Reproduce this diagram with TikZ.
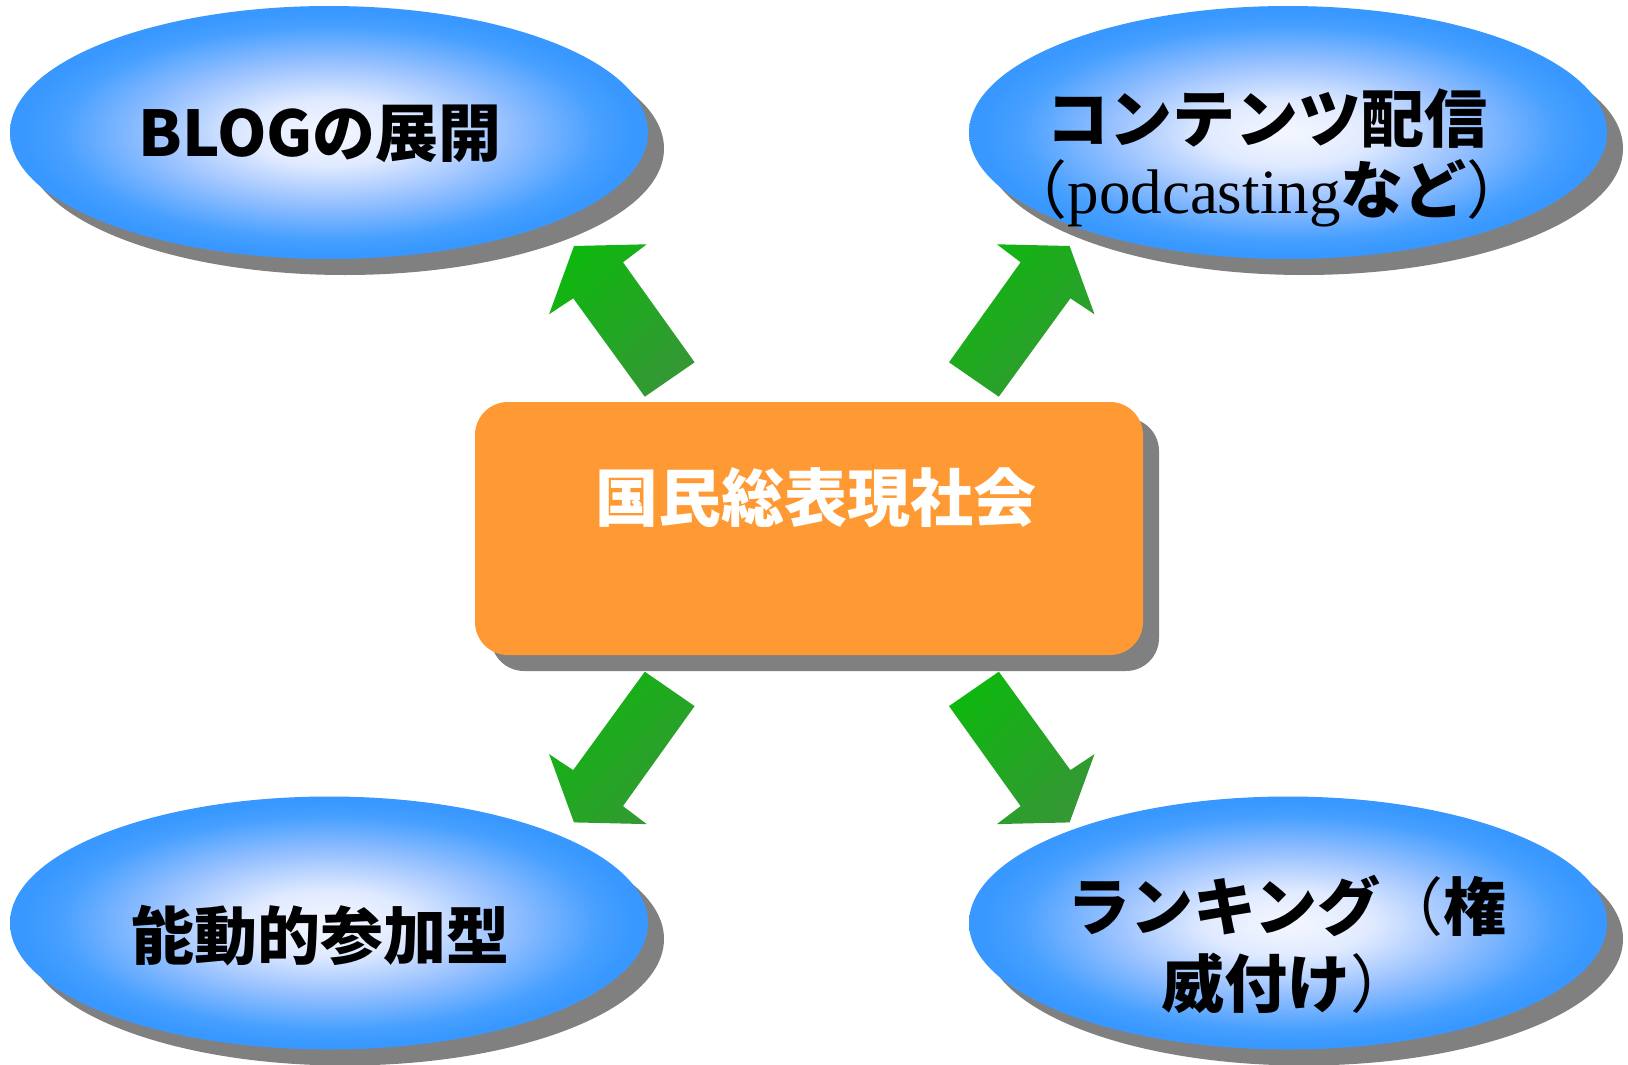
\documentclass[tikz,border=0pt]{standalone}
\usepackage{fontspec}
\newfontfamily\cjk{Noto Sans CJK JP}
\newfontfamily\serifl{Liberation Serif}
\usetikzlibrary{shapes.geometric,shadows}
\definecolor{eblue}{RGB}{56,152,255}
\definecolor{ecA}{RGB}{244,247,255}
\definecolor{ecB}{RGB}{224,234,255}
\definecolor{ecC}{RGB}{150,192,255}
\definecolor{ecD}{RGB}{72,160,255}
\definecolor{shadowgray}{RGB}{128,128,128}
\definecolor{boxorange}{RGB}{255,153,51}
\definecolor{gbright}{RGB}{16,182,16}
\definecolor{gdark}{RGB}{52,152,52}
\pgfdeclareradialshading{ellshade}{\pgfpoint{0bp}{0bp}}{color(0bp)=(ecA); color(6.5bp)=(ecB); color(14bp)=(ecC); color(21bp)=(ecD); color(24bp)=(eblue); color(50bp)=(eblue)}
\tikzset{
  ell/.style={ellipse, minimum width=638pt, minimum height=253pt, inner sep=0pt,
    shading=ellshade,
    drop shadow={shadow xshift=16pt, shadow yshift=-16pt, fill=shadowgray, opacity=1}},
  centerbox/.style={rectangle, rounded corners=33pt, minimum width=668pt, minimum height=253pt,
    inner sep=0pt, fill=boxorange,
    drop shadow={shadow xshift=16pt, shadow yshift=-16pt, fill=shadowgray, opacity=1}},
  btxt/.style={inner sep=0pt, text=black, font=\cjk\bfseries\fontsize{63}{71}\selectfont, align=center},
  wtxt/.style={inner sep=0pt, text=white, font=\cjk\bfseries\fontsize{63}{71}\selectfont},
  arrowfill/.style={top color=gbright, bottom color=gdark, shading angle=45},
  garrow/.pic={\path[arrowfill] (-247.8,-288.2) -- (-175.1,-289.9) -- (-198.8,-271.9)
     -- (-127.2,-171.9) -- (-177,-137.5) -- (-248.6,-235.9) -- (-272.7,-219.9) -- cycle;}
}
\begin{document}
\begin{tikzpicture}[x=1pt,y=-1pt]
\useasboundingbox (0,0) rectangle (1628,1065);
\fill[white] (0,0) rectangle (1628,1065);
% ellipses
\node[ell] (blog) at (329,132.5) {};
\node[ell] (contents) at (1288,132.5) {};
\node[ell] (active) at (329,923) {};
\node[ell] (ranking) at (1288,923) {};
% center box
\node[centerbox] (society) at (809,528.5) {};
% arrows
\coordinate (hub) at (821.8,534.2);
\pic at (hub) {garrow};
\pic[xscale=-1] at (hub) {garrow};
\pic[yscale=-1] at (hub) {garrow};
\pic[xscale=-1,yscale=-1] at (hub) {garrow};
% texts
\node[wtxt] (societytext) at (816,497.5) {国民総表現社会};
\node[btxt] (blogtext) at (320,134) {BLOGの展開};
\node[btxt] (contentstext) at (1267,158) {コンテンツ配信\\{\mdseries （}{\serifl\mdseries podcasting}など{\mdseries ）}};
\node[btxt, font=\cjk\bfseries\fontsize{63}{77}\selectfont] (activetext) at (320,936) {能動的参加型};
\node[btxt, font=\cjk\bfseries\fontsize{63}{77}\selectfont] (rankingtext) at (1287,944) {ランキング{\mdseries （}権\\威付け{\mdseries ）}};
\end{tikzpicture}
\end{document}
